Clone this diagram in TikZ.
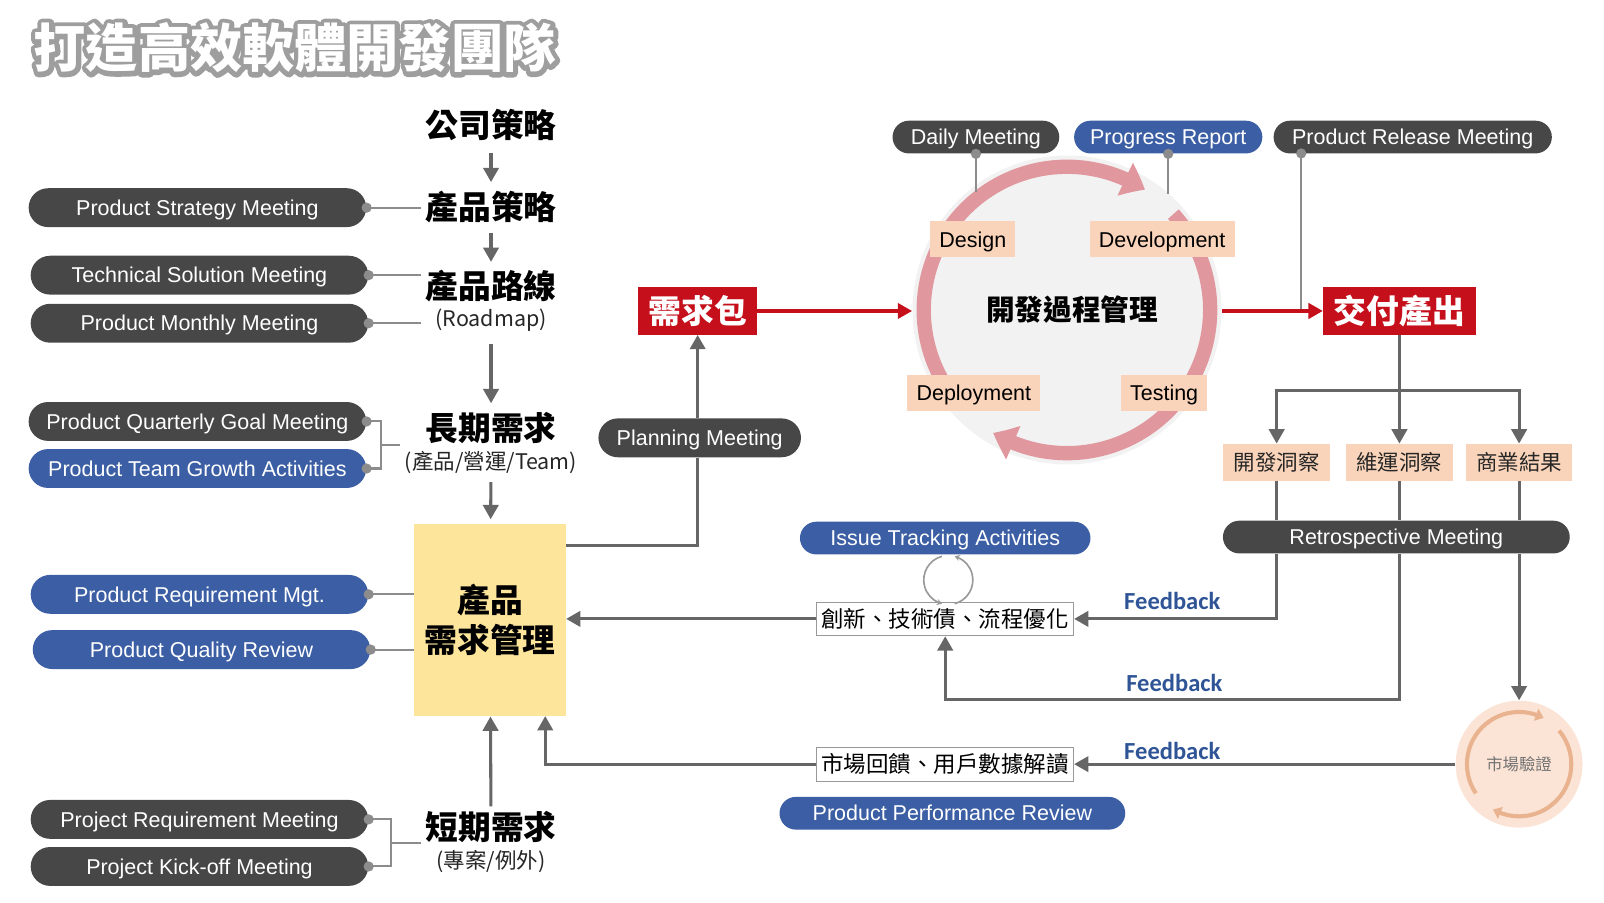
\documentclass[tikz,border=0pt]{standalone}
\usepackage{fontspec}
\setmainfont{Liberation Sans}
\newfontfamily\cjk{Noto Sans CJK TC}
\newfontfamily\fbfont{Carlito}
\usetikzlibrary{arrows.meta,bending}
\definecolor{pilldark}{HTML}{474747}
\definecolor{pillblue}{HTML}{3B5EA4}
\definecolor{linkgray}{HTML}{8C8C8C}
\definecolor{flowgray}{HTML}{666666}
\definecolor{boxred}{HTML}{C5101C}
\definecolor{peachfill}{HTML}{F9D4BA}
\definecolor{reqfill}{HTML}{FDE59B}
\definecolor{ringpink}{HTML}{E0979E}
\definecolor{discgray}{HTML}{F2F2F2}
\definecolor{fbblue}{HTML}{2F5597}
\definecolor{mktfill}{HTML}{FBE4D6}
\definecolor{mktring}{HTML}{E9B390}
\tikzset{darkpill/.style={fill=pilldark,text=white,rounded corners=9.5pt,minimum height=19pt,minimum width=165pt,inner sep=0pt,text height=9.5pt,text depth=2pt,font=\fontsize{10.5}{12}\selectfont},bluepill/.style={darkpill,fill=pillblue},toppill/.style={minimum height=16pt,rounded corners=8pt},
cnhead/.style={font=\cjk\bfseries\fontsize{16}{19}\selectfont,inner sep=2pt},cnsub/.style={font=\cjk\fontsize{10.5}{12}\selectfont,text=black!85,inner sep=2pt},
titletext/.style={text=white,font=\cjk\bfseries\fontsize{25.5}{30}\selectfont,inner sep=0pt},
reqbox/.style={fill=reqfill,minimum width=74pt,minimum height=94pt,align=center,font=\cjk\bfseries\fontsize{16}{20}\selectfont},
redbox/.style={fill=boxred,text=white,font=\cjk\bfseries\fontsize{16}{19}\selectfont,minimum height=23pt,inner sep=0pt},
stagebox/.style={fill=peachfill,font=\fontsize{10.5}{12}\selectfont,minimum height=17.5pt,inner xsep=4.5pt,inner ysep=0pt,text height=9.5pt,text depth=2pt},
insightbox/.style={fill=peachfill,font=\cjk\fontsize{10.5}{12}\selectfont,minimum width=52pt,minimum height=18pt,inner sep=0pt,text=black!85},
notebox/.style={draw=black!40,line width=.5pt,fill=white,font=\cjk\fontsize{11}{13}\selectfont,minimum width=125.5pt,minimum height=16.5pt,inner sep=0pt},
fblabel/.style={font=\fbfont\bfseries\fontsize{12}{14}\selectfont,text=fbblue,inner sep=0pt},
flow/.style={draw=flowgray,line width=1.5pt,-{Triangle[length=7pt,width=7.5pt]}},redflow/.style={flow,draw=boxred},
link/.style={draw=linkgray,line width=1pt},pindot/.style={fill=linkgray},
ring/.style={draw=ringpink,line width=7pt,-{Triangle[length=11pt,width=17pt,bend]}},
mktarc/.style={draw=mktring,line width=2pt,-{Triangle[length=4pt,width=6pt,bend]}},
loopline/.style={draw=black!40,line width=.8pt,-{Stealth[length=2.5pt,width=3pt]}}}
\begin{document}
\begin{tikzpicture}[x=0.5pt,y=-0.5pt]
\path[use as bounding box] (0,0) rectangle (1568,882);
\node[titletext] (titleshade) at (288,47) {\special{pdf:literal direct q 1 j 1 Tr 4.6 w 0.62 G}打造高效軟體開發團隊\special{pdf:literal direct Q}};
\node[titletext] (title) at (288,47) {打造高效軟體開發團隊};
\node[darkpill] (strat) at (193,203) {Product Strategy Meeting};
\node[darkpill] (tech) at (195,269) {Technical Solution Meeting};
\node[darkpill] (monthly) at (195,316) {Product Monthly Meeting};
\node[darkpill] (quarter) at (193,412) {Product Quarterly Goal Meeting};
\node[bluepill] (growth) at (193,458) {Product Team Growth Activities};
\node[bluepill] (reqmgt) at (195,581) {Product Requirement Mgt.};
\node[bluepill] (quality) at (197,635) {Product Quality Review};
\node[darkpill] (projreq) at (195,801) {Project Requirement Meeting};
\node[darkpill] (kickoff) at (195,847) {Project Kick-off Meeting};
\node[cnhead] (corp) at (480,122) {公司策略};
\node[cnhead] (pstrat) at (480,202) {產品策略};
\node[cnhead] (road) at (480,280) {產品路線};
\node[cnsub] (roadsub) at (480,313) {(Roadmap)};
\node[cnhead] (long) at (480,418) {長期需求};
\node[cnsub] (longsub) at (480,452) {(產品/營運/Team)};
\node[reqbox] (req) at (479,606) {產品\\需求管理};
\node[cnhead] (short) at (480,808) {短期需求};
\node[cnsub] (shortsub) at (480,842) {(專案/例外)};
\draw[flow,shorten <=4pt,shorten >=2pt] (corp) -- (pstrat);
\draw[flow,shorten <=3pt,shorten >=2pt] (pstrat) -- (road);
\draw[flow,shorten <=4pt,shorten >=2pt] (roadsub) -- (long);
\draw[flow,shorten <=2pt,shorten >=2pt] (longsub) -- (req);
\draw[flow] (short) -- (req);
\draw[link] (strat.east) -- (strat.east -| pstrat.west);
\draw[link] (tech.east) -- (tech.east -| road.west);
\draw[link] (monthly.east) -- (monthly.east -| road.west);
\coordinate (brkq) at (372,435);
\draw[link] (quarter.east) -| (brkq) |- (growth.east);
\draw[link] (brkq) -- (brkq -| longsub.west);
\draw[link] (reqmgt.east) -- (reqmgt.east -| req.west);
\draw[link] (quality.east) -- (quality.east -| req.west);
\coordinate (brkp) at (382,824);
\draw[link] (projreq.east) -| (brkp) |- (kickoff.east);
\draw[link] (brkp) -- (brkp -| short.west);
\foreach \p in {strat,tech,monthly,quarter,growth,reqmgt,quality,projreq,kickoff} \fill[pindot] (\p.east) circle[radius=2.5pt];
\node[redbox,minimum width=58pt] (pkg) at (682,304) {需求包};
\node[darkpill,minimum width=99pt] (planning) at (684,428) {Planning Meeting};
\coordinate (planturn) at (682,533);
\draw[flow,-] (req.east |- planturn) -- (planturn) -- (planturn |- planning.south);
\draw[flow] (planturn |- planning.north) -- (pkg.south);
\node[circle,fill=discgray,minimum size=151pt,inner sep=0pt] (devc) at (1043,303) {};
\draw[ring] (devc.center) ++(214:70pt) arc[start angle=214,end angle=57,radius=70pt];
\draw[ring] (devc.center) ++(42:70pt) arc[start angle=42,end angle=-121,radius=70pt];
\node[font=\cjk\bfseries\fontsize{14}{17}\selectfont] (devtitle) at (1048,303) {開發過程管理};
\node[stagebox] (design) at (951,234) {Design};
\node[stagebox] (develop) at (1136,234) {Development};
\node[stagebox] (deploy) at (952,384) {Deployment};
\node[stagebox] (testing) at (1138,384) {Testing};
\node[darkpill,toppill,minimum width=81.5pt] (daily) at (954,134) {Daily Meeting};
\node[bluepill,toppill,minimum width=92pt] (progress) at (1142,134) {Progress Report};
\node[darkpill,toppill,minimum width=136pt] (release) at (1381,134) {Product Release Meeting};
\node[redbox,minimum width=74.5pt] (out) at (1368,304) {交付產出};
\coordinate (dailyend) at (954,188);
\coordinate (progressend) at (1142,190);
\coordinate (releasetap) at (1272,150);
\draw[link] (daily.south) -- (dailyend);
\draw[link] (progress.south) -- (progressend);
\draw[link] (releasetap) -- (releasetap |- out.west);
\fill[pindot] (daily.south) circle[radius=2.5pt];
\fill[pindot] (progress.south) circle[radius=2.5pt];
\fill[pindot] (releasetap) circle[radius=2.5pt];
\draw[redflow] (pkg.east) -- (pkg.east -| devc.west);
\draw[redflow] (devc.east |- out.west) -- (out.west);
\node[insightbox] (devins) at (1248,452) {開發洞察};
\node[insightbox] (opsins) at (1368,452) {維運洞察};
\node[insightbox] (bizres) at (1485,452) {商業結果};
\coordinate (split) at (1368,382);
\draw[flow,-] (out.south) -- (split);
\draw[flow] (split) -| (devins.north);
\draw[flow] (split) -- (opsins.north);
\draw[flow] (split) -| (bizres.north);
\node[darkpill,toppill,minimum width=169.5pt] (retro) at (1365,525) {Retrospective Meeting};
\draw[flow,-] (devins.south) -- (devins.south |- retro.north);
\draw[flow,-] (opsins.south) -- (opsins.south |- retro.north);
\draw[flow,-] (bizres.south) -- (bizres.south |- retro.north);
\node[notebox] (innov) at (924,605) {創新、技術債、流程優化};
\node[notebox] (mktfb) at (924,747) {市場回饋、用戶數據解讀};
\node[bluepill,toppill,minimum width=142pt] (issue) at (924,526) {Issue Tracking Activities};
\node[bluepill,toppill,minimum width=169pt] (perf) at (931,795) {Product Performance Review};
\node[circle,fill=mktfill,minimum size=62pt,inner sep=0pt,text=black!55,font=\cjk\fontsize{8}{10}\selectfont] (mkt) at (1485,747) {市場驗證};
\draw[mktarc] (mkt.center) ++(214:25.5pt) arc[start angle=214,end angle=62,radius=25.5pt];
\draw[mktarc] (mkt.center) ++(40:25.5pt) arc[start angle=40,end angle=-120,radius=25.5pt];
\coordinate (loopturn) at (1368,684);
\coordinate (reqin) at (533,700);
\draw[flow] (devins.south |- retro.south) |- (innov.east);
\draw[flow] (opsins.south |- retro.south) -- (loopturn) -| (innov.south);
\draw[flow] (bizres.south |- retro.south) -- (mkt.north);
\draw[flow] (innov.west) -- (innov.west -| req.east);
\draw[flow] (mkt.west) -- (mktfb.east);
\draw[flow] (mktfb.west) -| (reqin);
\node[fblabel] (fbretro) at (1146,587) {Feedback};
\node[fblabel] (fbops) at (1148,668) {Feedback};
\node[fblabel] (fbmkt) at (1146,734) {Feedback};
\coordinate (issueloop) at (927,567);
\draw[loopline] (issueloop) ++(-75:12pt) arc[start angle=-75,end angle=75,radius=12pt];
\draw[loopline] (issueloop) ++(105:12pt) arc[start angle=105,end angle=255,radius=12pt];
\end{tikzpicture}
\end{document}
